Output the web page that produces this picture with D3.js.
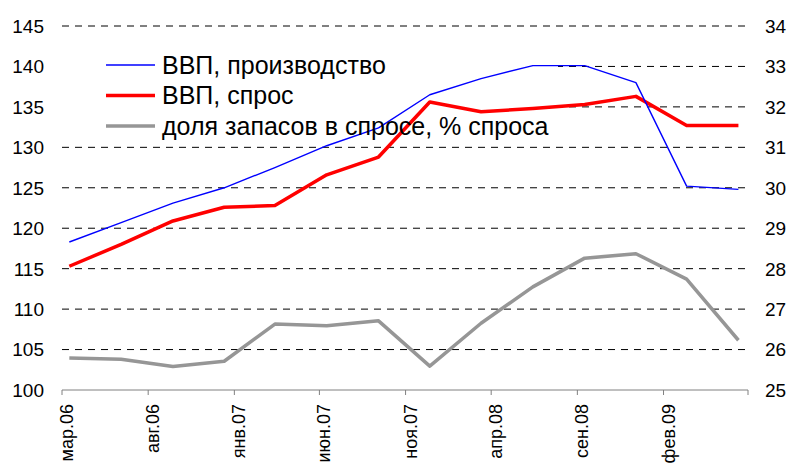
<meta charset="utf-8">
<style>
  body { margin: 0; background: #fff; }
  text { font-family: "Liberation Sans", Arial, sans-serif; fill: #000; }
  .grid { stroke: #000; stroke-width: 1; stroke-dasharray: 7,6; }
</style>
<body>
<script src="https://d3js.org/d3.v7.min.js"></script>
<script>
  // quarterly data, 2006Q1 .. 2009Q2
  const quarters = ["2006-03", "2006-06", "2006-09", "2006-12", "2007-03", "2007-06", "2007-09",
                    "2007-12", "2008-03", "2008-06", "2008-09", "2008-12", "2009-03", "2009-06"];
  const gdpProd = [118.3, 120.7, 123.1, 125.0, 127.5, 130.2, 132.4, 136.5, 138.5, 140.1, 140.1, 138.0, 125.2, 124.8];
  const gdpDemand = [115.3, 118.0, 120.9, 122.6, 122.8, 126.6, 128.8, 135.6, 134.4, 134.8, 135.3, 136.3, 132.7, 132.7];
  const stockShare = [25.79, 25.76, 25.58, 25.71, 26.63, 26.59, 26.71, 25.59, 26.65, 27.55, 28.26, 28.37, 27.74, 26.23];

  const tickMonths = ["2006-03", "2006-08", "2007-01", "2007-06", "2007-11", "2008-04", "2008-09", "2009-02", "2009-07"];
  const tickLabels = ["мар.06", "авг.06", "янв.07", "июн.07", "ноя.07", "апр.08", "сен.08", "фев.09", ""];
  const leftTicks = [100, 105, 110, 115, 120, 125, 130, 135, 140, 145];
  const rightTicks = [25, 26, 27, 28, 29, 30, 31, 32, 33, 34];
  const legendNames = ["ВВП, производство", "ВВП, спрос", "доля запасов в спросе, % спроса"];

  const width = 789, height = 470;
  const plot = { left: 62, right: 748, top: 26, bottom: 390 };

  const parseMonth = d3.timeParse("%Y-%m");
  // points sit a little into their month on the date axis
  const pointDate = s => d3.timeDay.offset(parseMonth(s), 13);

  const svg = d3.select("body").append("svg")
    .attr("width", width)
    .attr("height", height);

  const x = d3.scaleTime()
    .domain([parseMonth(tickMonths[0]), parseMonth(tickMonths[tickMonths.length - 1])])
    .range([plot.left, plot.right]);
  const yL = d3.scaleLinear().domain([100, 145]).range([plot.bottom, plot.top]);
  const yR = d3.scaleLinear().domain([25, 34]).range([plot.bottom, plot.top]);

  // gridlines
  svg.append("g").selectAll("line")
    .data(leftTicks.slice(1))
    .join("line")
    .attr("class", "grid")
    .attr("x1", plot.left).attr("x2", plot.right - 2)
    .attr("y1", d => yL(d)).attr("y2", d => yL(d));

  // legend box hides the gridlines (series are drawn over it)
  svg.append("rect")
    .attr("x", plot.left).attr("y", 40)
    .attr("width", 496).attr("height", 100)
    .attr("fill", "#fff");

  // x axis
  const xAxis = svg.append("g");
  xAxis.append("line")
    .attr("x1", plot.left).attr("x2", plot.right)
    .attr("y1", plot.bottom).attr("y2", plot.bottom)
    .attr("stroke", "#808080");
  xAxis.selectAll(".tick")
    .data(tickMonths)
    .join("line")
    .attr("x1", d => x(parseMonth(d))).attr("x2", d => x(parseMonth(d)))
    .attr("y1", plot.bottom).attr("y2", plot.bottom + 5)
    .attr("stroke", "#808080");
  xAxis.selectAll("text")
    .data(tickMonths)
    .join("text")
    .attr("transform", d => `translate(${x(parseMonth(d)) + 11}, ${plot.bottom + 14}) rotate(-90)`)
    .attr("text-anchor", "end")
    .style("font-size", "18px")
    .text((d, i) => tickLabels[i]);

  // y labels
  svg.append("g").selectAll("text")
    .data(leftTicks)
    .join("text")
    .attr("x", 44).attr("y", d => yL(d))
    .attr("dy", "0.36em")
    .attr("text-anchor", "end")
    .style("font-size", "19px")
    .text(d => d);

  svg.append("g").selectAll("text")
    .data(rightTicks)
    .join("text")
    .attr("x", 765).attr("y", d => yR(d))
    .attr("dy", "0.36em")
    .style("font-size", "19px")
    .text(d => d);

  // lines
  const lineL = d3.line().x(d => x(pointDate(d.q))).y(d => yL(d.v));
  const lineR = d3.line().x(d => x(pointDate(d.q))).y(d => yR(d.v));
  const toPts = arr => arr.map((v, i) => ({ q: quarters[i], v }));

  const series = [
    { vals: stockShare, line: lineR, color: "#969696", w: 3.5 },
    { vals: gdpDemand, line: lineL, color: "#ff0000", w: 3.5 },
    { vals: gdpProd, line: lineL, color: "#0000ff", w: 1.4 }
  ];
  series.forEach(s => {
    svg.append("path")
      .datum(toPts(s.vals))
      .attr("fill", "none")
      .attr("stroke", s.color)
      .attr("stroke-width", s.w)
      .attr("stroke-linejoin", "round")
      .attr("d", s.line);
  });

  // legend
  const legendStyles = [series[2], series[1], series[0]];
  const legend = svg.append("g");
  legendNames.forEach((name, i) => {
    const ly = 65 + i * 30.5;
    legend.append("line")
      .attr("x1", 106).attr("x2", 155)
      .attr("y1", ly).attr("y2", ly)
      .attr("stroke", legendStyles[i].color)
      .attr("stroke-width", legendStyles[i].w);
    legend.append("text")
      .attr("x", 162).attr("y", ly + 8.5)
      .style("font-size", "25px")
      .text(name);
  });
</script>
</body>
